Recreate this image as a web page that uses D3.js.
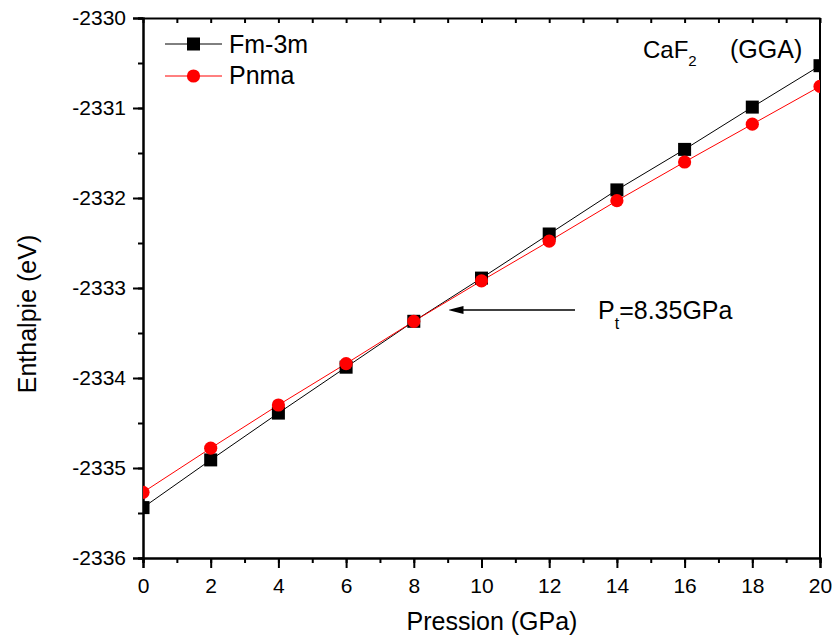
<!DOCTYPE html>
<html>
<head>
<meta charset="utf-8">
<script src="https://cdn.jsdelivr.net/npm/d3@7"></script>
<style>
  body { margin: 0; background: #fff; }
  text { font-family: "Liberation Sans", Arial, sans-serif; }
</style>
</head>
<body>
<svg></svg>
<script>
// values
var pressure = [0, 2, 4, 6, 8, 10, 12, 14, 16, 18, 20];
var fm3m = [-2335.44, -2334.91, -2334.39, -2333.88, -2333.37, -2332.89, -2332.40, -2331.91, -2331.46, -2330.99, -2330.53];
var pnma = [-2335.27, -2334.78, -2334.30, -2333.84, -2333.37, -2332.92, -2332.48, -2332.03, -2331.60, -2331.18, -2330.76];
var xTicks = [0, 2, 4, 6, 8, 10, 12, 14, 16, 18, 20];
var yTicks = [-2336, -2335, -2334, -2333, -2332, -2331, -2330];

var width = 834, height = 641;
var margin = {top: 18, right: 14, bottom: 83, left: 143};

var svg = d3.select('svg').attr('width', width).attr('height', height);

var x = d3.scaleLinear().domain([0, 20]).range([margin.left, width - margin.right]);
var y = d3.scaleLinear().domain([-2336, -2330]).range([height - margin.bottom, margin.top]);

var defs = svg.append('defs');
defs.append('clipPath').attr('id', 'clip')
  .append('rect')
  .attr('x', margin.left).attr('y', margin.top)
  .attr('width', x(20) - x(0)).attr('height', y(-2336) - y(-2330));
defs.append('marker')
  .attr('id', 'arrow')
  .attr('viewBox', '0 0 10 10')
  .attr('preserveAspectRatio', 'none')
  .attr('refX', 1).attr('refY', 5)
  .attr('markerWidth', 15).attr('markerHeight', 8)
  .attr('markerUnits', 'userSpaceOnUse')
  .attr('orient', 'auto')
  .append('path').attr('d', 'M10,5 L0,0 L0,10 Z').attr('fill', '#000');

// plain hyphen, not unicode minus
var fmt = function(d) { return String(d); };

function styleAxis(g) {
  g.select('.domain').attr('stroke-width', 2);
  g.selectAll('.tick line').attr('stroke-width', 2);
  g.selectAll('text').attr('font-size', 21).attr('fill', '#000')
    .attr('font-family', '"Liberation Sans", Arial, sans-serif');
}

// bottom
var xMinor = d3.range(0, 21, 1);
svg.append('g')
  .attr('transform', 'translate(0,' + y(-2336) + ')')
  .call(d3.axisBottom(x).tickValues(xMinor).tickSize(5).tickFormat(''))
  .call(styleAxis);
svg.append('g')
  .attr('transform', 'translate(0,' + y(-2336) + ')')
  .call(d3.axisBottom(x).tickValues(xTicks).tickSize(10).tickPadding(10).tickFormat(fmt))
  .call(styleAxis);

// top
svg.append('g')
  .attr('transform', 'translate(0,' + y(-2330) + ')')
  .call(d3.axisBottom(x).tickValues(xMinor).tickSizeInner(5).tickSizeOuter(0).tickFormat(''))
  .call(styleAxis);

// left
var yMinor = d3.range(-2336, -2329.9, 0.5);
svg.append('g')
  .attr('transform', 'translate(' + x(0) + ',0)')
  .call(d3.axisLeft(y).tickValues(yMinor).tickSize(5).tickFormat(''))
  .call(styleAxis);
svg.append('g')
  .attr('transform', 'translate(' + x(0) + ',0)')
  .call(d3.axisLeft(y).tickValues(yTicks).tickSize(10).tickPadding(7).tickFormat(fmt))
  .call(styleAxis);

// right
svg.append('line')
  .attr('x1', x(20)).attr('x2', x(20))
  .attr('y1', y(-2336)).attr('y2', y(-2330))
  .attr('stroke', '#000').attr('stroke-width', 2);

// axis titles
svg.append('text')
  .attr('x', 492).attr('y', 630)
  .attr('text-anchor', 'middle').attr('font-size', 25)
  .text('Pression (GPa)');
svg.append('text')
  .attr('transform', 'translate(36,314) rotate(-90)')
  .attr('text-anchor', 'middle').attr('font-size', 25)
  .text('Enthalpie (eV)');

// series
var plot = svg.append('g').attr('clip-path', 'url(#clip)');
var line = d3.line().x(function(d) { return x(d[0]); }).y(function(d) { return y(d[1]); });

var fmData = pressure.map(function(p, i) { return [p, fm3m[i]]; });
var pnData = pressure.map(function(p, i) { return [p, pnma[i]]; });

plot.append('path').datum(fmData).attr('d', line)
  .attr('fill', 'none').attr('stroke', '#000').attr('stroke-width', 1);
plot.append('path').datum(pnData).attr('d', line)
  .attr('fill', 'none').attr('stroke', '#ff0000').attr('stroke-width', 1);

plot.selectAll('.sq').data(fmData).enter().append('rect')
  .attr('class', 'sq')
  .attr('x', function(d) { return x(d[0]) - 6.5; })
  .attr('y', function(d) { return y(d[1]) - 6.5; })
  .attr('width', 13).attr('height', 13)
  .attr('fill', '#000');
plot.selectAll('.ci').data(pnData).enter().append('circle')
  .attr('class', 'ci')
  .attr('cx', function(d) { return x(d[0]); })
  .attr('cy', function(d) { return y(d[1]); })
  .attr('r', 6.6)
  .attr('fill', '#ff0000');

// legend
var legend = svg.append('g');
legend.append('line').attr('x1', 165).attr('x2', 222).attr('y1', 44).attr('y2', 44).attr('stroke', '#000');
legend.append('rect').attr('x', 187).attr('y', 37.5).attr('width', 13).attr('height', 13).attr('fill', '#000');
legend.append('text').attr('x', 229).attr('y', 53).attr('font-size', 25).text('Fm-3m');
legend.append('line').attr('x1', 165).attr('x2', 222).attr('y1', 76).attr('y2', 76).attr('stroke', '#ff0000');
legend.append('circle').attr('cx', 193.5).attr('cy', 76).attr('r', 6.6).attr('fill', '#ff0000');
legend.append('text').attr('x', 229).attr('y', 84).attr('font-size', 25).text('Pnma');

// annotations
var title = svg.append('text').attr('x', 643).attr('y', 58).attr('font-size', 24);
title.append('tspan').text('CaF');
title.append('tspan').attr('dy', 8).attr('font-size', 15).text('2');
title.append('tspan').attr('x', 730).attr('dy', -8).attr('font-size', 25).text('(GGA)');

svg.append('line')
  .attr('x1', 575).attr('x2', 462).attr('y1', 310).attr('y2', 310)
  .attr('stroke', '#000').attr('stroke-width', 1.5)
  .attr('marker-end', 'url(#arrow)');

var pt = svg.append('text').attr('x', 598).attr('y', 319).attr('font-size', 25);
pt.append('tspan').text('P');
pt.append('tspan').attr('dy', 10).attr('font-size', 16).text('t');
pt.append('tspan').attr('dy', -10).text('=8.35GPa');
</script>
</body>
</html>
